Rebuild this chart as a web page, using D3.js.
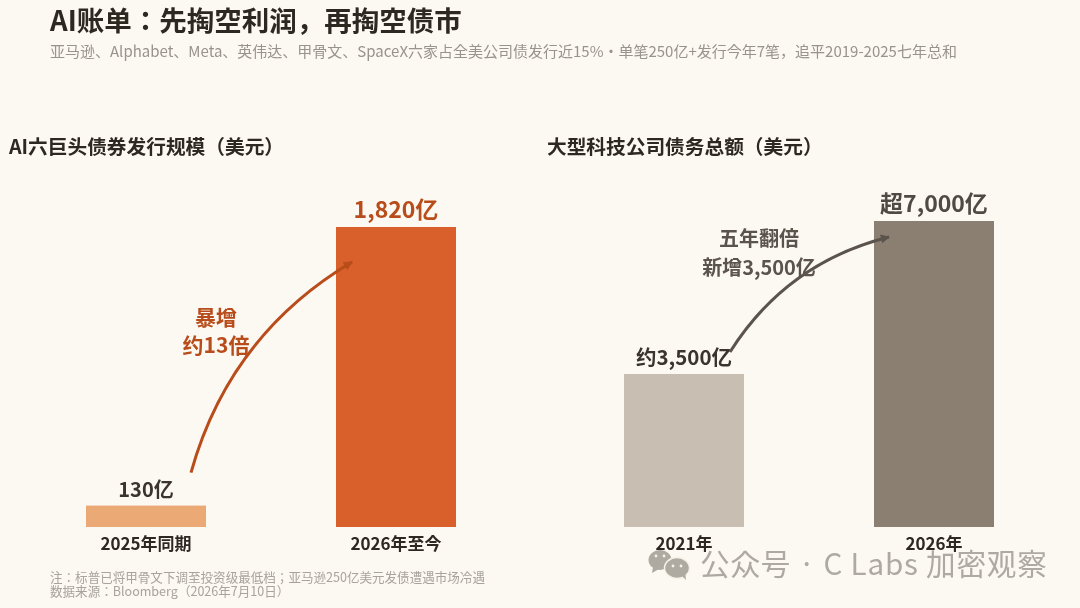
<!DOCTYPE html>
<html>
<head>
<meta charset="utf-8">
<script src="https://cdn.jsdelivr.net/npm/d3@7"></script>
<style>
	html, body { margin: 0; padding: 0; background: #fcf8f2; }
	svg { display: block; }
	text { font-family: "Noto Sans CJK JP", "Noto Sans", sans-serif; }
</style>
</head>
<body>
<div id="chart"></div>
<script>
// 数据
const leftCategories = ['2025年同期', '2026年至今'];
const leftValues = [130, 1820];
const leftLabels = ['130亿', '1,820亿'];

const rightCategories = ['2021年', '2026年'];
const rightValues = [3500, 7000];
const rightLabels = ['约3,500亿', '超7,000亿'];

const titleText = 'AI账单：先掏空利润，再掏空债市';
const subtitleText = '亚马逊、Alphabet、Meta、英伟达、甲骨文、SpaceX六家占全美公司债发行近15%・单笔250亿+发行今年7笔，追平2019-2025七年总和';
const footnotes = ['注：标普已将甲骨文下调至投资级最低档；亚马逊250亿美元发债遭遇市场冷遇', '数据来源：Bloomberg（2026年7月10日）'];
const watermarkText = '公众号 · C Labs 加密观察';

const width = 1080, height = 608;
const baseY = 527;

const svg = d3.select('#chart').append('svg')
	.attr('width', width)
	.attr('height', height)
	.attr('viewBox', [0, 0, width, height]);

svg.append('rect').attr('width', width).attr('height', height).attr('fill', '#fcf8f2');

const defs = svg.append('defs');

function addText(x, y, str, size, weight, color, anchor) {
	return svg.append('text')
		.attr('x', x)
		.attr('y', y)
		.attr('font-size', size)
		.attr('font-weight', weight)
		.attr('fill', color)
		.attr('text-anchor', anchor || 'start')
		.text(str);
}

addText(50, 31, titleText, 27.5, 700, '#2d2820');
addText(50, 57, subtitleText, 15, 400, '#98938b');
addText(9, 154, 'AI六巨头债券发行规模（美元）', 19.7, 700, '#2d2820');
addText(547, 154, '大型科技公司债务总额（美元）', 19.7, 700, '#2d2820');

// 画一组柱子，坐标轴标签用 d3.axisBottom
function drawPanel(opt) {
	const x = d3.scaleBand()
		.domain(opt.categories)
		.range(opt.xRange)
		.paddingInner(0.52)
		.paddingOuter(0);
	const y = d3.scaleLinear()
		.domain([0, d3.max(opt.values)])
		.range([baseY, opt.top]);

	const g = svg.append('g');

	g.selectAll('rect')
		.data(opt.values)
		.join('rect')
		.attr('x', (d, i) => x(opt.categories[i]))
		.attr('y', d => y(d))
		.attr('width', x.bandwidth())
		.attr('height', d => baseY - y(d))
		.attr('fill', (d, i) => opt.colors[i]);

	g.selectAll('text.value')
		.data(opt.values)
		.join('text')
		.attr('class', 'value')
		.attr('x', (d, i) => x(opt.categories[i]) + x.bandwidth() / 2)
		.attr('y', d => y(d) - 9)
		.attr('text-anchor', 'middle')
		.attr('font-size', (d, i) => opt.labelSizes[i])
		.attr('font-weight', 700)
		.attr('fill', (d, i) => opt.labelColors[i])
		.text((d, i) => opt.labels[i]);

	const axis = g.append('g')
		.attr('transform', `translate(0,${baseY})`)
		.call(d3.axisBottom(x).tickSize(0).tickPadding(11));
	axis.select('.domain').remove();
	axis.selectAll('text')
		.attr('font-family', '"Noto Sans CJK JP", sans-serif')
		.attr('font-size', 17)
		.attr('font-weight', 700)
		.attr('fill', '#2d2820');

	// 弧形箭头，起止点跟着柱子走
	const x0 = x(opt.categories[0]) + opt.arrowFrom[0],
		y0 = y(opt.values[0]) + opt.arrowFrom[1],
		x1 = x(opt.categories[1]) + opt.arrowTo[0],
		y1 = y(opt.values[1]) + opt.arrowTo[1];
	const rad = 0.2,
		cx = (x0 + x1) / 2 + rad * (y1 - y0),
		cy = (y0 + y1) / 2 - rad * (x1 - x0);

	const markerId = 'head-' + opt.id;
	defs.append('marker')
		.attr('id', markerId)
		.attr('viewBox', '0 0 10 10')
		.attr('refX', 9)
		.attr('refY', 5)
		.attr('markerUnits', 'userSpaceOnUse')
		.attr('markerWidth', 11)
		.attr('markerHeight', 9)
		.attr('orient', 'auto')
		.append('path')
		.attr('d', 'M0,0L10,5L0,10Z')
		.attr('fill', opt.arrowColor);

	const path = d3.path();
	path.moveTo(x0, y0);
	path.quadraticCurveTo(cx, cy, x1, y1);
	g.append('path')
		.attr('d', path.toString())
		.attr('fill', 'none')
		.attr('stroke', opt.arrowColor)
		.attr('stroke-width', 3)
		.attr('marker-end', `url(#${markerId})`);

	opt.notes.forEach(n => {
		g.append('text')
			.attr('x', n.x)
			.attr('y', n.y)
			.attr('text-anchor', 'middle')
			.attr('font-size', opt.noteSize)
			.attr('font-weight', 700)
			.attr('fill', opt.arrowColor)
			.text(n.text);
	});
}

drawPanel({
	id: 'left',
	categories: leftCategories,
	values: leftValues,
	labels: leftLabels,
	labelSizes: [20, 23],
	xRange: [86, 456],
	top: 227,
	colors: ['#eba976', '#d95f2b'],
	labelColors: ['#3a342c', '#b84c1a'],
	arrowColor: '#b84c1a',
	arrowFrom: [105, -33],
	arrowTo: [16, 35],
	noteSize: 21,
	notes: [{x: 216, y: 325, text: '暴增'}, {x: 216, y: 353, text: '约13倍'}]
});

drawPanel({
	id: 'right',
	categories: rightCategories,
	values: rightValues,
	labels: rightLabels,
	labelSizes: [20.5, 23],
	xRange: [624, 994],
	top: 221,
	colors: ['#c8bfb2', '#8a7f70'],
	labelColors: ['#3a342c', '#4f4a43'],
	arrowColor: '#5a544c',
	arrowFrom: [106, -22],
	arrowTo: [15, 16],
	noteSize: 20,
	notes: [{x: 759, y: 246, text: '五年翻倍'}, {x: 759, y: 275, text: '新增3,500亿'}]
});

addText(50, 582, footnotes[0], 12.55, 400, '#a8a39b');
addText(50, 596, footnotes[1], 12.55, 400, '#a8a39b');

// 水印（微信图标 + 文字），压在底下的字要透出来
const wm = svg.append('g').attr('fill', '#b0afab').style('mix-blend-mode', 'multiply');
wm.append('ellipse').attr('cx', 660).attr('cy', 560).attr('rx', 11.5).attr('ry', 10);
wm.append('path').attr('d', d3.line()([[653, 567], [652, 573], [659, 569]]));
wm.append('ellipse').attr('cx', 677).attr('cy', 568).attr('rx', 12.5).attr('ry', 10.5).attr('stroke', '#fcf8f2').attr('stroke-width', 1.5);
wm.append('path').attr('d', d3.line()([[682, 576], [686, 580], [685, 572]]));
[[656, 556], [664, 556], [673, 566], [681, 566]].forEach(p => {
	wm.append('circle').attr('cx', p[0]).attr('cy', p[1]).attr('r', 1.4).attr('fill', '#fcf8f2');
});
wm.append('text')
	.attr('x', 700)
	.attr('y', 575)
	.attr('font-size', 29.6)
	.attr('letter-spacing', 0.8)
	.text(watermarkText);
</script>
</body>
</html>
